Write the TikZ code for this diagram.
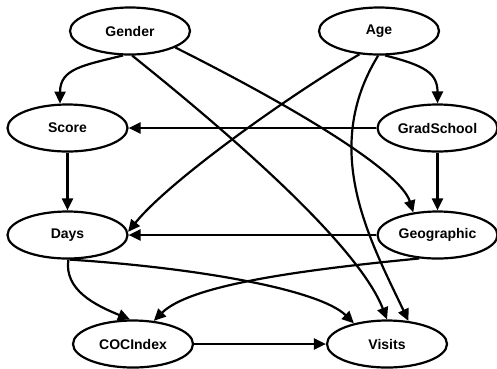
\documentclass[tikz,border=0pt]{standalone}
\usepackage{fontspec}
\setmainfont{Liberation Sans}
\usetikzlibrary{shapes.geometric,arrows.meta}

\tikzset{
  var/.style={ellipse, draw, line width=2.2pt, inner sep=0pt,
    minimum width=120pt, minimum height=47pt,
    font=\fontsize{14}{16}\selectfont\bfseries},
  link/.style={line width=2.2pt, -{Triangle[length=12pt,width=11pt]}}
}

\begin{document}
\begin{tikzpicture}[x=1pt,y=-1pt]
\useasboundingbox (0,0) rectangle (497,368);

% variables
\node[var] (Gender)     at (130,31)    {Gender};
\node[var] (Age)        at (379,31)    {Age};
\node[var] (Score)      at (67.5,128)  {Score};
\node[var] (GradSchool) at (437.5,128) {GradSchool};
\node[var] (Days)       at (67.5,235)  {Days};
\node[var] (Geographic) at (437.5,235) {Geographic};
\node[var] (COCIndex)   at (133,344)   {COCIndex};
\node[var] (Visits)     at (387,344)   {Visits};

% straight links
\draw[link] (GradSchool.west) -- (Score.east);
\draw[link] (GradSchool.south) -- (Geographic.north);
\draw[link] (Score.south) -- (Days.north);
\draw[link] (Geographic.west) -- (Days.east);
\draw[link] (COCIndex.east) -- (Visits.west);

% curved links
\draw[link] (Gender.254) .. controls +(-40,10) and +(0,-35) .. (Score.107);
\draw[link] (Gender.275) .. controls (250,150) and (360,250) .. (Visits.north);
\draw[link] (Gender.340) .. controls (290,105) and (400,170) .. (Geographic.137);
\draw[link] (Age.284) .. controls +(40,10) and +(0,-30) .. (GradSchool.north);
\draw[link] (Age.230) .. controls (290,95) and (170,180) .. (Days.3);
\draw[link] (Age.268) .. controls (320,150) and (370,240) .. (Visits.47);
\draw[link] (Geographic.232) .. controls (300,270) and (190,285) .. (COCIndex.48);
\draw[link] (Days.272) .. controls (64,290) and (95,305) .. (COCIndex.97);
\draw[link] (Days.275) .. controls (200,268) and (320,290) .. (Visits.148);
\end{tikzpicture}
\end{document}
